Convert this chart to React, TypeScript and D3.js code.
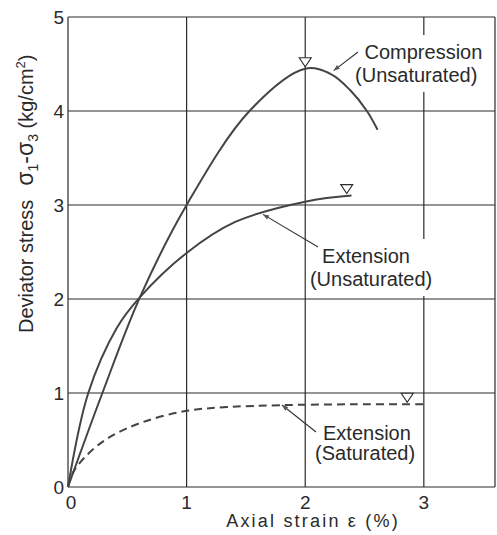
import React, { useEffect, useRef } from 'react'
import * as d3 from 'd3'

// axial strain (%) / deviator stress (kg/cm2)
const compStrain = [0, 0.29, 0.607, 1.0, 1.53, 2.0, 2.22, 2.38, 2.52, 2.61]
const compStress = [0, 1.0, 2.02, 3.0, 4.0, 4.45, 4.39, 4.22, 4.0, 3.8]

const extUStrain = [0, 0.171, 0.41, 0.607, 1.0, 1.41, 2.02, 2.39]
const extUStress = [0, 1.0, 1.69, 2.02, 2.49, 2.82, 3.04, 3.1]

const extSStrain = [0, 0.04, 0.16, 0.35, 0.63, 1.0, 1.34, 1.79, 2.4, 3.03]
const extSStress = [0, 0.15, 0.34, 0.53, 0.69, 0.81, 0.85, 0.87, 0.88, 0.88]

// failure points (open triangles)
const failStrain = [2.0, 2.35, 2.86]
const failStress = [4.45, 3.1, 0.88]

const xTicks = [0, 1, 2, 3]
const yTicks = [0, 1, 2, 3, 4, 5]

const labels = [
  { lines: ['Compression', '(Unsaturated)'], at: [[2.5, 4.553], [2.42, 4.31]], from: [2.445, 4.628], to: [2.24, 4.43] },
  { lines: ['Extension', '(Unsaturated)'], at: [[2.142, 2.383], [2.04, 2.138]], from: [2.108, 2.553], to: [1.644, 2.9] },
  { lines: ['Extension', '(Saturated)'], at: [[2.15, 0.5], [2.083, 0.287]], from: [2.091, 0.585], to: [1.804, 0.872] }
]

const W = 497
const H = 535
const ink = '#2a2a2a'
const font = "'Liberation Sans', Arial, sans-serif"

const App = () => {
  const ref = useRef<SVGSVGElement>(null)

  useEffect(() => {
    const svg = d3.select(ref.current)
    svg.selectAll('*').remove()

    const x = d3.scaleLinear().domain([0, 3.6]).range([68, 495])
    const y = d3.scaleLinear().domain([0, 5]).range([487, 17])

    const defs = svg.append('defs')
    defs.append('marker')
      .attr('id', 'arr')
      .attr('viewBox', '0 0 10 10')
      .attr('refX', 10).attr('refY', 5)
      .attr('markerWidth', 9).attr('markerHeight', 6)
      .attr('markerUnits', 'userSpaceOnUse')
      .attr('orient', 'auto')
      .append('path').attr('d', 'M0,1 L10,5 L0,9 Z').attr('fill', '#555')

    // grid
    const g = svg.append('g').attr('stroke', ink).attr('stroke-width', 1.2)
    yTicks.forEach(t => {
      g.append('line').attr('x1', x(0)).attr('x2', x(3.6)).attr('y1', y(t)).attr('y2', y(t))
    })
    xTicks.concat([3.6]).forEach(t => {
      g.append('line').attr('x1', x(t)).attr('x2', x(t)).attr('y1', y(0)).attr('y2', y(5))
    })

    // label blocks with white backing, so grid lines break round them
    const lab = svg.append('g')
      .attr('font-family', font).attr('font-size', 20).attr('fill', ink)
    labels.forEach(l => {
      const grp = lab.append('g')
      const bg = grp.append('rect').attr('fill', 'white')
      const tg = grp.append('g')
      l.lines.forEach((s, i) => {
        tg.append('text').attr('x', x(l.at[i][0])).attr('y', y(l.at[i][1])).text(s)
      })
      const bb = (tg.node() as SVGGElement).getBBox()
      bg.attr('x', bb.x - 4).attr('y', bb.y - 6).attr('width', bb.width + 8).attr('height', bb.height + 12)
      svg.append('line')
        .attr('x1', x(l.from[0])).attr('y1', y(l.from[1]))
        .attr('x2', x(l.to[0])).attr('y2', y(l.to[1]))
        .attr('stroke', '#333').attr('stroke-width', 1.1)
        .attr('marker-end', 'url(#arr)')
    })

    const line = d3.line<number>()
      .curve(d3.curveCatmullRom.alpha(0.5))

    const draw = (xs: number[], ys: number[], dash?: string) => {
      svg.append('path')
        .attr('d', line(xs.map((s, i) => [x(s), y(ys[i])]) as any))
        .attr('fill', 'none')
        .attr('stroke', '#444')
        .attr('stroke-width', 2)
        .attr('stroke-dasharray', dash || null)
    }
    draw(compStrain, compStress)
    draw(extUStrain, extUStress)
    draw(extSStrain, extSStress, '8,5')

    failStrain.forEach((s, i) => {
      const cx = x(s)
      const cy = y(failStress[i]) - 2
      svg.append('path')
        .attr('d', `M${cx - 6},${cy - 9} L${cx + 6},${cy - 9} L${cx},${cy} Z`)
        .attr('fill', 'white').attr('stroke', ink).attr('stroke-width', 1.1)
    })

    // tick labels
    const tl = svg.append('g').attr('font-family', font).attr('font-size', 19).attr('fill', ink)
    xTicks.forEach(t => {
      tl.append('text').attr('x', x(t) + (t === 0 ? 3 : 0)).attr('y', 509)
        .attr('text-anchor', 'middle').text(t)
    })
    yTicks.forEach(t => {
      tl.append('text').attr('x', 64).attr('y', y(t)).attr('dy', '0.35em')
        .attr('text-anchor', 'end').text(t)
    })

    // axis titles
    svg.append('text')
      .attr('x', 313).attr('y', 527)
      .attr('text-anchor', 'middle')
      .attr('font-family', font).attr('font-size', 18).attr('fill', ink)
      .attr('letter-spacing', 2.2)
      .text('Axial strain ε (%)')

    const yt = svg.append('text')
      .attr('transform', 'translate(33,333) rotate(-90)')
      .attr('font-family', font).attr('font-size', 20).attr('fill', ink)
    yt.append('tspan').text('Deviator stress')
    yt.append('tspan').attr('dx', 14).attr('font-size', 23).text('σ')
    yt.append('tspan').attr('font-size', 14).attr('dy', 5).text('1')
    yt.append('tspan').attr('dy', -5).attr('font-size', 23).text('-σ')
    yt.append('tspan').attr('font-size', 14).attr('dy', 5).text('3')
    yt.append('tspan').attr('dy', -5).text(' (kg/cm')
    yt.append('tspan').attr('font-size', 13).attr('dy', -8).text('2')
    yt.append('tspan').attr('dy', 8).text(')')
  }, [])

  return (
    <svg ref={ref} width={W} height={H}
      style={{ position: 'absolute', left: 0, top: 0, background: 'white' }} />
  )
}

export default App
